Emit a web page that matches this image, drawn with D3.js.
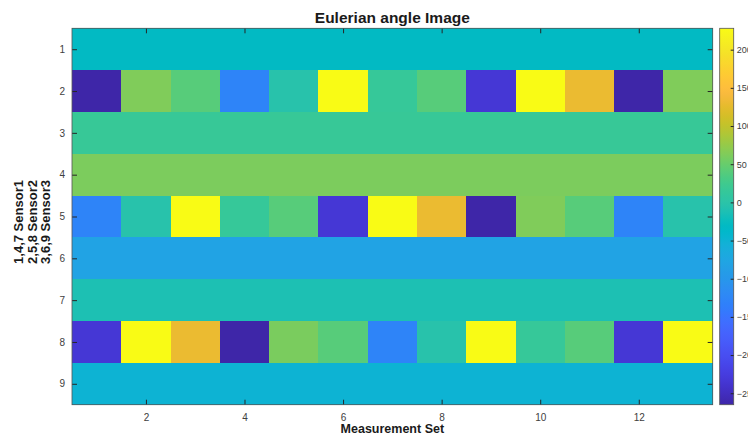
<!DOCTYPE html>
<html>
<head>
<meta charset="utf-8">
<script src="https://cdn.jsdelivr.net/npm/d3@7"></script>
<style>
  body { margin: 0; background: #fff; }
  svg { display: block; font-family: "Liberation Sans", Arial, sans-serif; }
</style>
</head>
<body>
<svg id="chart" width="748" height="439"></svg>
<script>
// measurement sets (columns) and sensor rows
var columns = [1, 2, 3, 4, 5, 6, 7, 8, 9, 10, 11, 12, 13];
var rows = [1, 2, 3, 4, 5, 6, 7, 8, 9];
var xTicks = [2, 4, 6, 8, 10, 12];
var cbTicks = [200, 150, 100, 50, 0, -50, -100, -150, -200, -250];

// eulerian angle values, one array per row
var row1 = [-30, -30, -30, -30, -30, -30, -30, -30, -30, -30, -30, -30, -30];
var row2 = [-265, 63, 40, -128, -3, 228, 15, 40, -234, 228, 130, -265, 63];
var row3 = [17, 17, 17, 17, 17, 17, 17, 17, 17, 17, 17, 17, 17];
var row4 = [61, 61, 61, 61, 61, 61, 61, 61, 61, 61, 61, 61, 61];
var row5 = [-128, -3, 228, 15, 40, -234, 228, 130, -265, 63, 40, -128, -3];
var row6 = [-80, -80, -80, -80, -80, -80, -80, -80, -80, -80, -80, -80, -80];
var row7 = [-12, -12, -12, -12, -12, -12, -12, -12, -12, -12, -12, -12, -12];
var row8 = [-234, 228, 130, -265, 60, 40, -128, -3, 228, 15, 40, -234, 228];
var row9 = [-50, -50, -50, -50, -50, -50, -50, -50, -50, -50, -50, -50, -50];
var matrix = [row1, row2, row3, row4, row5, row6, row7, row8, row9];

// matlab parula colormap (64 entries)
var parula = [
 [0.2422,0.1504,0.6603],[0.2504,0.1650,0.7076],[0.2578,0.1818,0.7511],[0.2647,0.1978,0.7952],
 [0.2706,0.2147,0.8364],[0.2751,0.2342,0.8710],[0.2783,0.2559,0.8991],[0.2803,0.2782,0.9221],
 [0.2813,0.3006,0.9414],[0.2810,0.3228,0.9579],[0.2795,0.3447,0.9717],[0.2760,0.3667,0.9829],
 [0.2699,0.3892,0.9906],[0.2602,0.4123,0.9952],[0.2440,0.4358,0.9988],[0.2206,0.4603,0.9973],
 [0.1963,0.4847,0.9892],[0.1834,0.5074,0.9798],[0.1786,0.5289,0.9682],[0.1764,0.5499,0.9520],
 [0.1687,0.5703,0.9359],[0.1540,0.5902,0.9218],[0.1460,0.6091,0.9079],[0.1380,0.6276,0.8973],
 [0.1248,0.6459,0.8883],[0.1113,0.6635,0.8763],[0.0952,0.6798,0.8598],[0.0689,0.6948,0.8394],
 [0.0297,0.7082,0.8163],[0.0036,0.7203,0.7917],[0.0067,0.7312,0.7660],[0.0433,0.7411,0.7394],
 [0.0964,0.7500,0.7120],[0.1408,0.7584,0.6842],[0.1717,0.7670,0.6554],[0.1938,0.7758,0.6251],
 [0.2161,0.7843,0.5923],[0.2470,0.7918,0.5567],[0.2906,0.7973,0.5188],[0.3406,0.8008,0.4789],
 [0.3909,0.8029,0.4354],[0.4456,0.8024,0.3909],[0.5044,0.7993,0.3480],[0.5616,0.7942,0.3045],
 [0.6174,0.7876,0.2612],[0.6720,0.7793,0.2227],[0.7242,0.7698,0.1910],[0.7738,0.7598,0.1646],
 [0.8203,0.7498,0.1535],[0.8634,0.7406,0.1596],[0.9035,0.7330,0.1774],[0.9393,0.7288,0.2100],
 [0.9728,0.7298,0.2394],[0.9956,0.7434,0.2371],[0.9970,0.7659,0.2199],[0.9952,0.7893,0.2028],
 [0.9892,0.8136,0.1885],[0.9786,0.8386,0.1766],[0.9676,0.8639,0.1643],[0.9610,0.8890,0.1537],
 [0.9597,0.9135,0.1423],[0.9628,0.9373,0.1265],[0.9691,0.9606,0.1064],[0.9769,0.9839,0.0805]
].map(function(c) { return d3.rgb(c[0] * 255, c[1] * 255, c[2] * 255).formatHex(); });

var svg = d3.select('#chart'),
    plotLeft = 72, plotRight = 712.7, plotTop = 28.3, plotBottom = 404.7;

var flat = d3.merge(matrix);
var vmin = d3.min(flat), vmax = d3.max(flat);

var x = d3.scaleLinear().domain([0.5, columns.length + 0.5]).range([plotLeft, plotRight]);
var y = d3.scaleLinear().domain([0.5, rows.length + 0.5]).range([plotTop, plotBottom]);
var color = d3.scaleSequential(d3.piecewise(d3.interpolateRgb, parula)).domain([vmin, vmax]);

// cells
var cells = [];
matrix.forEach(function(r, i) {
  r.forEach(function(v, j) { cells.push({row: rows[i], col: columns[j], value: v}); });
});

svg.append('g')
    .attr('shape-rendering', 'crispEdges')
  .selectAll('rect')
  .data(cells).enter()
  .append('rect')
    .attr('x', function(d) { return x(d.col - 0.5); })
    .attr('y', function(d) { return y(d.row - 0.5); })
    .attr('width', function(d) { return x(d.col + 0.5) - x(d.col - 0.5); })
    .attr('height', function(d) { return y(d.row + 0.5) - y(d.row - 0.5); })
    .attr('fill', function(d) { return color(d.value); });

// axes, ticks pointing inward like matlab
function styleAxis(g) {
  g.select('.domain').remove();
  g.selectAll('line').attr('stroke', '#262626');
  g.selectAll('text').attr('fill', '#404040').attr('font-size', 10);
}

svg.append('g')
    .attr('transform', 'translate(0,' + plotBottom + ')')
    .call(d3.axisBottom(x).tickValues(xTicks).tickSize(-5).tickPadding(9))
    .call(styleAxis);

svg.append('g')
    .attr('transform', 'translate(0,' + plotTop + ')')
    .call(d3.axisTop(x).tickValues(xTicks).tickSize(-5).tickFormat(''))
    .call(styleAxis);

svg.append('g')
    .attr('transform', 'translate(' + plotLeft + ',0)')
    .call(d3.axisLeft(y).tickValues(rows).tickSize(-5).tickPadding(7))
    .call(styleAxis);

svg.append('g')
    .attr('transform', 'translate(' + plotRight + ',0)')
    .call(d3.axisRight(y).tickValues(rows).tickSize(-5).tickFormat(''))
    .call(styleAxis);

svg.append('rect')
    .attr('x', plotLeft).attr('y', plotTop)
    .attr('width', plotRight - plotLeft).attr('height', plotBottom - plotTop)
    .attr('fill', 'none').attr('stroke', '#555').attr('stroke-width', 0.8);

// colorbar
var cbLeft = 719.7, cbRight = 733.7;
var cy = d3.scaleLinear().domain([vmin, vmax]).range([plotBottom, plotTop]);

var grad = svg.append('defs').append('linearGradient')
    .attr('id', 'cbgrad')
    .attr('x1', 0).attr('y1', 1).attr('x2', 0).attr('y2', 0);
grad.selectAll('stop')
  .data(parula).enter()
  .append('stop')
    .attr('offset', function(d, i) { return i / (parula.length - 1); })
    .attr('stop-color', function(d) { return d; });

svg.append('rect')
    .attr('x', cbLeft).attr('y', plotTop)
    .attr('width', cbRight - cbLeft).attr('height', plotBottom - plotTop)
    .attr('fill', 'url(#cbgrad)')
    .attr('stroke', '#555').attr('stroke-width', 0.8);

svg.append('g')
    .attr('transform', 'translate(' + cbRight + ',0)')
    .call(d3.axisRight(cy).tickValues(cbTicks).tickSize(-3).tickPadding(3))
    .call(styleAxis)
    .call(function(g) { g.selectAll('text').attr('font-size', 9); });

// title and labels
svg.append('text')
    .attr('x', (plotLeft + plotRight) / 2).attr('y', 23)
    .attr('text-anchor', 'middle')
    .attr('font-size', 15.5).attr('font-weight', 'bold').attr('fill', '#1a1a1a')
    .text('Eulerian angle Image');

svg.append('text')
    .attr('x', (plotLeft + plotRight) / 2).attr('y', 433)
    .attr('text-anchor', 'middle')
    .attr('font-size', 12.5).attr('font-weight', 'bold').attr('fill', '#1a1a1a')
    .text('Measurement Set');

var yLabel = ['1,4,7 Sensor1', '2,5,8 Sensor2', '3,6,9 Sensor3'];
svg.append('g')
    .attr('transform', 'translate(23,222) rotate(-90)')
  .selectAll('text')
  .data(yLabel).enter()
  .append('text')
    .attr('x', 0)
    .attr('y', function(d, i) { return i * 13.5; })
    .attr('text-anchor', 'middle')
    .attr('font-size', 13).attr('font-weight', 'bold').attr('fill', '#1a1a1a')
    .text(function(d) { return d; });
</script>
</body>
</html>
